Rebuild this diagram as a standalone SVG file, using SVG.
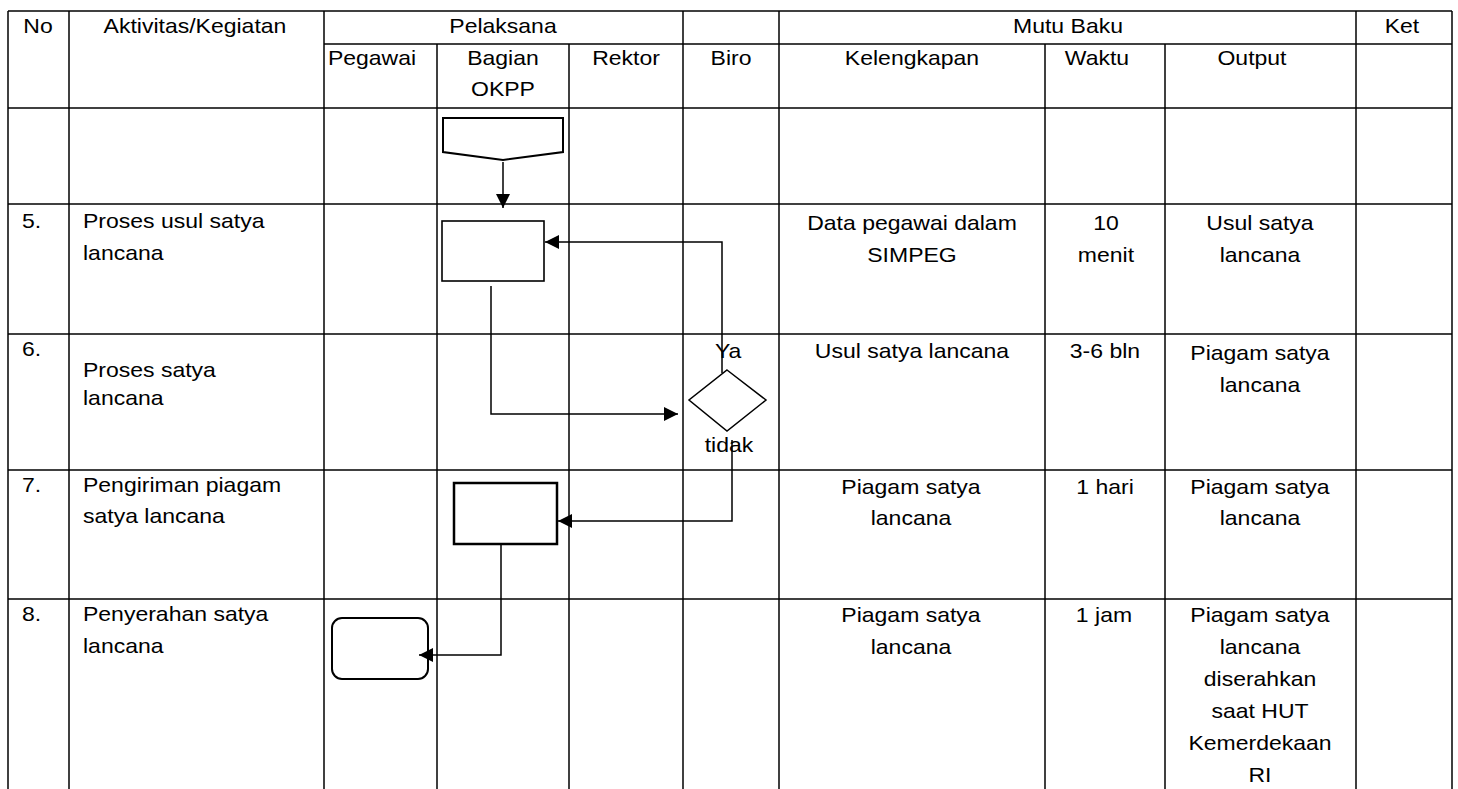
<svg xmlns="http://www.w3.org/2000/svg" width="1458" height="789" viewBox="0 0 1458 789">
<defs>
<style>
rect.bg { fill: #fff; }
.grid line { stroke: #000; stroke-width: 1.5; }
text { font-family: "Liberation Sans", Arial, sans-serif; font-size: 20px; fill: #000; transform-box: fill-box; transform: scaleX(1.15); }
.c { text-anchor: middle; transform-origin: center; }
.t { text-anchor: start; transform-origin: left; }
.shape { fill: #fff; stroke: #000; }
.conn path { fill: none; stroke: #000; stroke-width: 1.5; }
</style>
<marker id="ah" markerUnits="userSpaceOnUse" markerWidth="15" markerHeight="15" refX="14" refY="7" orient="auto">
<path d="M0,0 L14,7 L0,14 Z" fill="#000"/>
</marker>
</defs>
<rect class="bg" x="0" y="0" width="1458" height="789"/>

<g id="table" class="grid">
<line x1="8" y1="11" x2="1452" y2="11"/>
<line x1="324" y1="44" x2="1452" y2="44"/>
<line x1="8" y1="108" x2="1452" y2="108"/>
<line x1="8" y1="204" x2="1452" y2="204"/>
<line x1="8" y1="334" x2="1452" y2="334"/>
<line x1="8" y1="470" x2="1452" y2="470"/>
<line x1="8" y1="599" x2="1452" y2="599"/>
<line x1="8" y1="11" x2="8" y2="789"/>
<line x1="69" y1="11" x2="69" y2="789"/>
<line x1="324" y1="11" x2="324" y2="789"/>
<line x1="437" y1="44" x2="437" y2="789"/>
<line x1="569" y1="44" x2="569" y2="789"/>
<line x1="683" y1="11" x2="683" y2="789"/>
<line x1="779" y1="11" x2="779" y2="789"/>
<line x1="1045" y1="44" x2="1045" y2="789"/>
<line x1="1165" y1="44" x2="1165" y2="789"/>
<line x1="1356" y1="11" x2="1356" y2="789"/>
<line x1="1452" y1="11" x2="1452" y2="789"/>
</g>

<g id="header">
<text class="c" x="38" y="33">No</text>
<text class="c" x="195" y="33">Aktivitas/Kegiatan</text>
<text class="c" x="503" y="33">Pelaksana</text>
<text class="c" x="1068" y="33">Mutu Baku</text>
<text class="c" x="1402" y="33">Ket</text>
<text class="c" x="372" y="65">Pegawai</text>
<text class="c" x="503" y="65">Bagian</text>
<text class="c" x="503" y="96">OKPP</text>
<text class="c" x="626" y="65">Rektor</text>
<text class="c" x="731" y="65">Biro</text>
<text class="c" x="912" y="65">Kelengkapan</text>
<text class="c" x="1097" y="65">Waktu</text>
<text class="c" x="1252" y="65">Output</text>
</g>

<g id="row5">
<text class="t" x="22" y="228">5.</text>
<text class="t" x="83" y="228">Proses usul satya</text>
<text class="t" x="83" y="260">lancana</text>
<text class="c" x="912" y="230">Data pegawai dalam</text>
<text class="c" x="912" y="262">SIMPEG</text>
<text class="c" x="1106" y="230">10</text>
<text class="c" x="1106" y="262">menit</text>
<text class="c" x="1260" y="230">Usul satya</text>
<text class="c" x="1260" y="262">lancana</text>
</g>

<g id="row6">
<text class="t" x="22" y="356">6.</text>
<text class="t" x="83" y="377">Proses satya</text>
<text class="t" x="83" y="405">lancana</text>
<text class="c" x="912" y="358">Usul satya lancana</text>
<text class="c" x="1105" y="358">3-6 bln</text>
<text class="c" x="1260" y="360">Piagam satya</text>
<text class="c" x="1260" y="392">lancana</text>
</g>

<g id="row7">
<text class="t" x="22" y="492">7.</text>
<text class="t" x="83" y="492">Pengiriman piagam</text>
<text class="t" x="83" y="523">satya lancana</text>
<text class="c" x="911" y="494">Piagam satya</text>
<text class="c" x="911" y="525">lancana</text>
<text class="c" x="1105" y="494">1 hari</text>
<text class="c" x="1260" y="494">Piagam satya</text>
<text class="c" x="1260" y="525">lancana</text>
</g>

<g id="row8">
<text class="t" x="22" y="621">8.</text>
<text class="t" x="83" y="621">Penyerahan satya</text>
<text class="t" x="83" y="653">lancana</text>
<text class="c" x="911" y="622">Piagam satya</text>
<text class="c" x="911" y="654">lancana</text>
<text class="c" x="1104" y="622">1 jam</text>
<text class="c" x="1260" y="622">Piagam satya</text>
<text class="c" x="1260" y="654">lancana</text>
<text class="c" x="1260" y="686">diserahkan</text>
<text class="c" x="1260" y="718">saat HUT</text>
<text class="c" x="1260" y="750">Kemerdekaan</text>
<text class="c" x="1260" y="782">RI</text>
</g>

<g id="node-start">
<path class="shape" stroke-width="2" d="M443,118 H563 V152 L503,160 L443,152 Z"/>
</g>
<g id="node-proses-usul">
<rect class="shape" stroke-width="1.6" x="442" y="221" width="102" height="60"/>
</g>
<g id="node-keputusan">
<path class="shape" stroke-width="1.5" d="M727,370 L766,400 L727,431 L689,400 Z"/>
</g>
<g id="node-pengiriman">
<rect class="shape" stroke-width="2.5" x="454" y="483" width="103" height="61"/>
</g>
<g id="node-penyerahan">
<rect class="shape" stroke-width="2" x="332" y="618" width="96" height="61" rx="10" ry="10"/>
</g>

<g id="connectors" class="conn">
<path d="M503,162 V208" marker-end="url(#ah)"/>
<path d="M491,286 V414 H678" marker-end="url(#ah)"/>
<path d="M722,373 V242 H545" marker-end="url(#ah)"/>
<path d="M732,440 V521 H558" marker-end="url(#ah)"/>
<path d="M501,544 V655 H419" marker-end="url(#ah)"/>
</g>

<g id="labels">
<text class="t" x="715" y="358">Ya</text>
<text class="c" x="729" y="452">tidak</text>
</g>
</svg>
